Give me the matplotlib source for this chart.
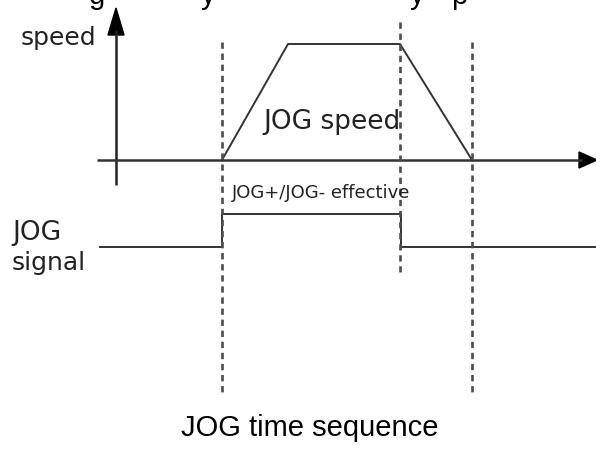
import matplotlib
matplotlib.use("Agg")
import matplotlib.pyplot as plt
from matplotlib.patches import Polygon

# timing events (horizontal position, px) and levels
event_x     = [222, 400, 472]            # signal on, signal off, motion stop
speed_t     = [222, 288, 400, 472]       # speed profile corners
speed_v     = [0.0, 1.0, 1.0, 0.0]       # normalised speed
signal_t    = [100, 222, 222, 401, 401, 596]
signal_v    = [0, 0, 1, 1, 0, 0]         # JOG signal level

AXIS_Y, SPEED_H = 160, 116
SIG_LOW, SIG_H = 247, 33
INK = "#222222"

fig = plt.figure(figsize=(5.96, 4.53), dpi=100)
ax = fig.add_axes([0, 0, 1, 1])
ax.set_xlim(0, 596)
ax.set_ylim(453, 0)
ax.axis("off")

# axes of the speed diagram
ax.plot([116, 116], [185, 30], color=INK, lw=1.8, solid_capstyle="butt")
ax.plot([97, 582], [AXIS_Y, AXIS_Y], color="#333333", lw=1.8, solid_capstyle="butt")
ax.add_patch(Polygon([[116, 8], [108, 35], [124, 35]], closed=True, color="black"))
ax.add_patch(Polygon([[597, AXIS_Y], [579, AXIS_Y - 8], [579, AXIS_Y + 8]],
                     closed=True, color="black"))

# speed trapezoid
ax.plot(speed_t, [AXIS_Y - v * SPEED_H for v in speed_v], color="#333333", lw=1.4)

# JOG signal
ax.plot(signal_t, [SIG_LOW - v * SIG_H for v in signal_v], color="#333333", lw=1.4)

# dashed event markers
dash_ranges = [(42, 394), (22, 272), (42, 394)]
for x, (y0, y1) in zip(event_x, dash_ranges):
    ax.plot([x, x], [y0, y1], color="#4d4d4d", lw=1.9, dashes=(2.4, 1.8))

# labels
lbl = dict(family="DejaVu Sans", color="#222222")
ax.text(21, 38, "speed", fontsize=18, va="center", ha="left", **lbl)
ax.text(263, 122, "JOG speed", fontsize=19, va="center", ha="left", **lbl)
ax.text(232, 193, "JOG+/JOG- effective", fontsize=13, va="center", ha="left", **lbl)
ax.text(12, 233, "JOG", fontsize=19, va="center", ha="left", **lbl)
ax.text(12, 263, "signal", fontsize=18, va="center", ha="left", **lbl)

ax.text(310, 428, "JOG time sequence", fontsize=21, family="Liberation Sans",
        va="center", ha="center", color="black")

# clipped caption line above the picture (only descenders visible)
for x, ch in [(89, "g"), (201, "y"), (410, "y"), (451, "p")]:
    ax.text(x, 4, ch, fontsize=21, family="Liberation Sans", va="baseline",
            ha="left", color="black", clip_on=True)

fig.savefig("out.png", dpi=100)
